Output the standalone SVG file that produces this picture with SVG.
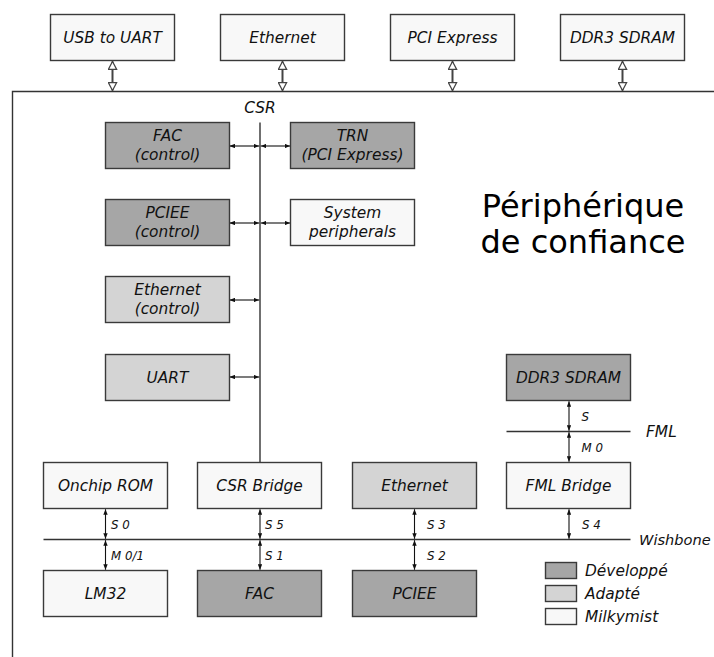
<svg xmlns="http://www.w3.org/2000/svg" width="714" height="657" viewBox="0 0 714 657">
<style>
.box{stroke:#3a3a3a;stroke-width:1.4}
.dev{fill:#a6a6a6}
.ada{fill:#d4d4d4}
.mil{fill:#f8f8f8}
text{font-family:"DejaVu Sans","Liberation Sans",sans-serif;font-style:italic;font-size:15.4px;fill:#111;text-anchor:middle}
.sm{font-size:11.8px;text-anchor:start}
.lt{text-anchor:start}
.big{font-style:normal;font-size:32px;fill:#000}
.bus{stroke:#333;stroke-width:1.4;fill:none}
.arr{stroke:#111;stroke-width:1.1;fill:none;marker-start:url(#ah);marker-end:url(#ah)}
.ext{stroke:#444;stroke-width:2;fill:none;marker-start:url(#hh);marker-end:url(#hh)}
</style>
<defs>
<marker id="ah" viewBox="0 0 10 8" refX="10" refY="4" markerWidth="5.5" markerHeight="4.4" markerUnits="userSpaceOnUse" orient="auto-start-reverse">
<path d="M0,0 L10,4 L0,8 Z" fill="#111"/>
</marker>
<marker id="hh" viewBox="0 0 12 12" refX="11" refY="6" markerWidth="10" markerHeight="10" markerUnits="userSpaceOnUse" orient="auto-start-reverse">
<path d="M1.5,1 L11,6 L1.5,11 Z" fill="#fff" stroke="#444" stroke-width="1.5"/>
</marker>
</defs>
<rect width="714" height="657" fill="#fff"/>
<path d="M12.5,660 V91.5 H720" class="bus"/>
<g id="connectors">
<line class="ext" x1="112.5" y1="61.5" x2="112.5" y2="90.5"/>
<line class="ext" x1="282.5" y1="61.5" x2="282.5" y2="90.5"/>
<line class="ext" x1="452.5" y1="61.5" x2="452.5" y2="90.5"/>
<line class="ext" x1="622.5" y1="61.5" x2="622.5" y2="90.5"/>
<line class="bus" x1="260" y1="122.5" x2="260" y2="462.5"/>
<line class="arr" x1="229.5" y1="146" x2="259.3" y2="146"/>
<line class="arr" x1="260.7" y1="146" x2="290.3" y2="146"/>
<line class="arr" x1="229.5" y1="223" x2="259.3" y2="223"/>
<line class="arr" x1="260.7" y1="223" x2="290.3" y2="223"/>
<line class="arr" x1="229.5" y1="300" x2="259.3" y2="300"/>
<line class="arr" x1="229.5" y1="377" x2="259.3" y2="377"/>
<line class="bus" x1="43.5" y1="539.5" x2="630.5" y2="539.5"/>
<line class="bus" x1="506.5" y1="431.5" x2="630.5" y2="431.5"/>
<line class="arr" x1="569" y1="401.2" x2="569" y2="430.8"/>
<line class="arr" x1="569" y1="432.2" x2="569" y2="461.8"/>
<line class="arr" x1="569" y1="509.2" x2="569" y2="538.8"/>
<line class="arr" x1="105.5" y1="509.2" x2="105.5" y2="538.8"/>
<line class="arr" x1="105.5" y1="540.2" x2="105.5" y2="569.8"/>
<line class="arr" x1="260" y1="509.2" x2="260" y2="538.8"/>
<line class="arr" x1="260" y1="540.2" x2="260" y2="569.8"/>
<line class="arr" x1="414.5" y1="509.2" x2="414.5" y2="538.8"/>
<line class="arr" x1="414.5" y1="540.2" x2="414.5" y2="569.8"/>
<text class="sm" x="581.5" y="421">S</text>
<text class="sm" x="581.5" y="451.5">M 0</text>
<text class="sm" x="582" y="529">S 4</text>
<text class="sm" x="111" y="529">S 0</text>
<text class="sm" x="111" y="559.5">M 0/1</text>
<text class="sm" x="265" y="529">S 5</text>
<text class="sm" x="265" y="559.5">S 1</text>
<text class="sm" x="427" y="529">S 3</text>
<text class="sm" x="427" y="559.5">S 2</text>
</g>
<text x="260" y="112.5">CSR</text>
<text class="lt" x="646" y="437">FML</text>
<text class="lt" x="639" y="545" style="font-size:14.6px">Wishbone</text>
<text class="big" x="583" y="216.5">Périphérique</text>
<text class="big" x="583" y="253">de confiance</text>
<g id="usb"><rect class="box mil" x="50.5" y="14.5" width="124" height="46"/><text x="112.5" y="43">USB to UART</text></g>
<g id="eth-ext"><rect class="box mil" x="220.5" y="14.5" width="124" height="46"/><text x="282.5" y="43">Ethernet</text></g>
<g id="pcie-ext"><rect class="box mil" x="390.5" y="14.5" width="124" height="46"/><text x="452.5" y="43">PCI Express</text></g>
<g id="ddr3-ext"><rect class="box mil" x="560.5" y="14.5" width="124" height="46"/><text x="622.5" y="43">DDR3 SDRAM</text></g>
<g id="fac-ctl"><rect class="box dev" x="105.5" y="122.5" width="124" height="46"/><text x="167.5" y="141">FAC</text><text x="167.5" y="159.5">(control)</text></g>
<g id="trn"><rect class="box dev" x="290.5" y="122.5" width="124" height="46"/><text x="352.5" y="141">TRN</text><text x="352.5" y="159.5">(PCI Express)</text></g>
<g id="pciee-ctl"><rect class="box dev" x="105.5" y="199.5" width="124" height="46"/><text x="167.5" y="218">PCIEE</text><text x="167.5" y="236.5">(control)</text></g>
<g id="sysper"><rect class="box mil" x="290.5" y="199.5" width="124" height="46"/><text x="352.5" y="218">System</text><text x="352.5" y="236.5">peripherals</text></g>
<g id="eth-ctl"><rect class="box ada" x="105.5" y="276.5" width="124" height="46"/><text x="167.5" y="295">Ethernet</text><text x="167.5" y="313.5">(control)</text></g>
<g id="uart"><rect class="box ada" x="105.5" y="354.5" width="124" height="46"/><text x="167.5" y="383">UART</text></g>
<g id="ddr3"><rect class="box dev" x="506.5" y="354.5" width="124" height="46"/><text x="568.5" y="383">DDR3 SDRAM</text></g>
<g id="rom"><rect class="box mil" x="43.5" y="462.5" width="124" height="46"/><text x="105.5" y="491">Onchip ROM</text></g>
<g id="csrbridge"><rect class="box mil" x="197.5" y="462.5" width="124" height="46"/><text x="259.5" y="491">CSR Bridge</text></g>
<g id="eth"><rect class="box ada" x="352.5" y="462.5" width="124" height="46"/><text x="414.5" y="491">Ethernet</text></g>
<g id="fmlbridge"><rect class="box mil" x="506.5" y="462.5" width="124" height="46"/><text x="568.5" y="491">FML Bridge</text></g>
<g id="lm32"><rect class="box mil" x="43.5" y="570.5" width="124" height="46"/><text x="105.5" y="599">LM32</text></g>
<g id="fac"><rect class="box dev" x="197.5" y="570.5" width="124" height="46"/><text x="259.5" y="599">FAC</text></g>
<g id="pciee"><rect class="box dev" x="352.5" y="570.5" width="124" height="46"/><text x="414.5" y="599">PCIEE</text></g>
<g id="legend">
<rect class="box dev" x="545.5" y="562.5" width="31" height="16"/><text class="lt" x="585" y="576">Développé</text>
<rect class="box ada" x="545.5" y="585.5" width="31" height="16"/><text class="lt" x="585" y="599">Adapté</text>
<rect class="box mil" x="545.5" y="608.5" width="31" height="16"/><text class="lt" x="585" y="622">Milkymist</text>
</g>
</svg>
